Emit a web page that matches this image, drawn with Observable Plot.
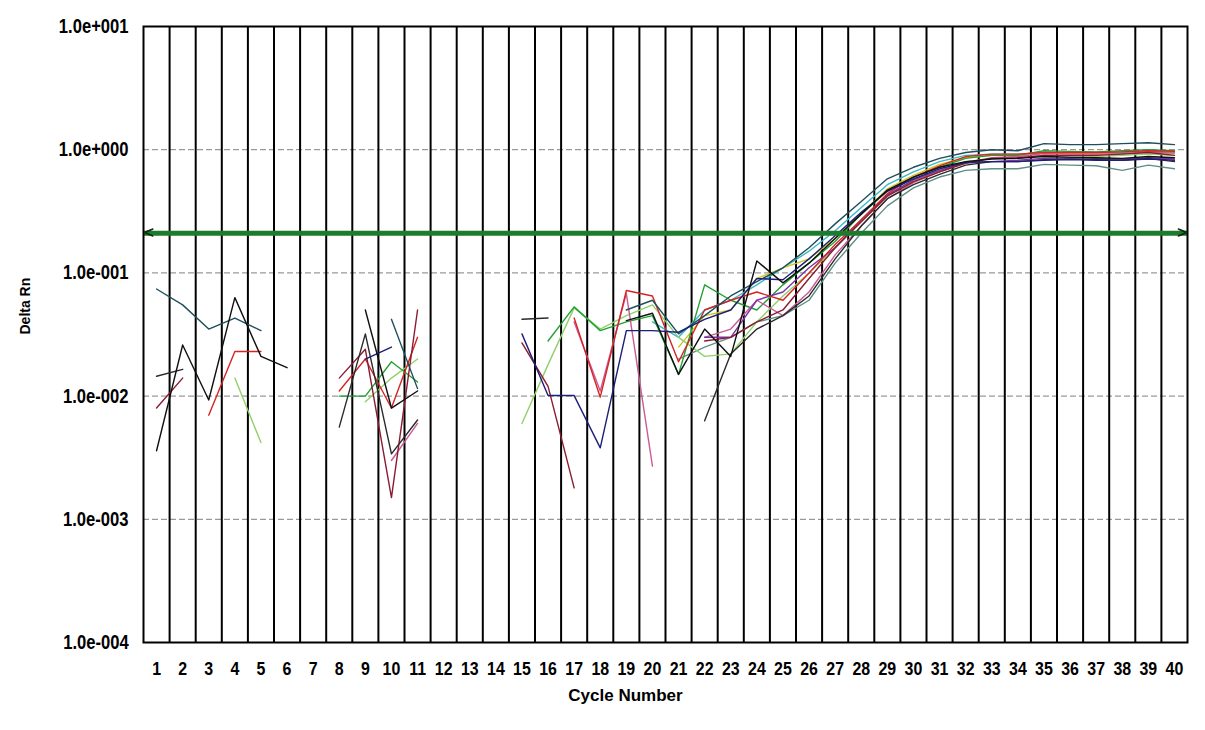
<!DOCTYPE html>
<html>
<head>
<meta charset="utf-8">
<script src="https://cdn.jsdelivr.net/npm/d3@7"></script>
<script src="https://cdn.jsdelivr.net/npm/@observablehq/plot@0.6"></script>
<style>
  html, body { margin: 0; padding: 0; background: #ffffff; }
  #chart svg text { font-weight: bold; }
</style>
</head>
<body>
<div id="chart"></div>
<script>
// ---- data ----
const cycles = [1,2,3,4,5,6,7,8,9,10,11,12,13,14,15,16,17,18,19,20,21,22,23,24,25,26,27,28,29,30,31,32,33,34,35,36,37,38,39,40];
const yTicks = [0.0001, 0.001, 0.01, 0.1, 1, 10];
const threshold = 0.21;

const graygreen = [null,null,null,null,null,null,null,null,null,null,
  null,null,null,null,null,null,null,null,null,null,
  0.02,0.025,0.03,0.04,0.045,0.06,0.12,0.21,0.35,0.49,
  0.6,0.68,0.7,0.7,0.76,0.75,0.74,0.68,0.75,0.7];
const cyan = [null,null,null,null,null,null,null,null,null,null,
  null,null,null,null,null,null,null,null,null,0.04,
  0.03,0.05,0.06,0.08,0.11,0.15,0.22,0.34,0.52,0.66,
  0.8,0.9,0.92,0.92,0.95,0.94,0.94,0.95,0.97,0.95];
const yellow = [null,null,null,null,null,null,null,null,null,null,
  null,null,null,null,null,null,null,null,null,null,
  0.025,0.045,0.05,0.09,0.11,0.13,0.19,0.3,0.48,0.62,
  0.76,0.86,0.9,0.9,0.93,0.93,0.92,0.93,0.95,0.93];
const lightgreen = [null,null,null,0.014,0.0042,null,null,null,0.009,0.014,
  0.02,null,null,null,0.006,0.018,0.052,0.035,0.045,0.055,
  0.03,0.021,0.022,0.04,0.065,0.1,0.16,0.26,0.42,0.56,
  0.68,0.8,0.85,0.85,0.9,0.9,0.88,0.9,0.92,0.9];
const green = [null,null,null,null,null,null,null,0.010,0.010,0.019,
  0.013,null,null,null,null,0.028,0.053,0.034,0.04,0.045,
  0.015,0.08,0.06,0.05,0.08,0.12,0.18,0.3,0.46,0.6,
  0.72,0.85,0.9,0.9,0.98,0.97,0.96,0.98,1.0,0.98];
const pink = [null,null,null,null,null,null,null,null,null,0.003,
  0.006,null,null,null,null,null,0.04,0.011,0.068,0.0027,
  null,0.03,0.035,0.06,0.045,0.07,0.14,0.24,0.4,0.54,
  0.66,0.78,0.86,0.88,0.93,0.92,0.92,0.93,0.96,0.94];
const purple = [null,null,null,null,null,null,null,null,null,null,
  null,null,null,null,null,null,null,null,null,null,
  null,0.03,0.03,0.06,0.07,0.11,0.16,0.27,0.43,0.57,
  0.68,0.78,0.8,0.82,0.85,0.86,0.85,0.84,0.86,0.84];
const red = [null,null,0.007,0.023,0.023,null,null,0.011,0.02,0.008,
  0.03,null,null,null,null,null,0.043,0.0098,0.072,0.065,
  0.019,0.05,0.06,0.07,0.06,0.1,0.17,0.27,0.44,0.6,
  0.74,0.88,0.92,0.92,0.95,0.95,0.95,0.96,0.98,0.97];
const maroon = [0.008,0.014,null,null,null,null,null,0.014,0.024,0.0015,
  0.05,null,null,null,0.027,0.012,0.0018,null,null,null,
  null,0.028,0.03,0.04,0.05,0.09,0.16,0.26,0.42,0.55,
  0.66,0.78,0.85,0.86,0.9,0.9,0.9,0.92,0.95,0.9];
const teal = [0.074,0.055,0.035,0.043,0.034,null,null,null,null,0.042,
  0.0115,null,null,null,null,null,null,null,0.05,0.06,
  0.032,0.045,0.065,0.085,0.11,0.16,0.25,0.38,0.58,0.72,
  0.85,0.95,1.0,0.98,1.12,1.1,1.1,1.12,1.14,1.1];
const black2 = [0.0145,0.0165,null,null,null,null,null,0.0056,0.032,0.0034,
  0.0064,null,null,null,0.042,0.043,null,null,null,null,
  null,0.0063,0.022,0.035,0.045,0.065,0.13,0.24,0.4,0.52,
  0.63,0.75,0.8,0.8,0.83,0.84,0.83,0.82,0.85,0.8];
const navy = [null,null,null,null,null,null,null,null,0.02,0.025,
  null,null,null,null,0.032,0.0101,0.0101,0.0038,0.034,0.034,
  0.033,0.042,0.05,0.09,0.088,0.13,0.2,0.31,0.46,0.58,
  0.7,0.79,0.8,0.8,0.82,0.83,0.82,0.82,0.84,0.82];
const black1 = [0.0036,0.026,0.0093,0.063,0.021,0.017,null,null,0.05,0.008,
  0.011,null,null,null,null,null,null,null,0.041,0.047,
  0.015,0.035,0.021,0.125,0.083,0.12,0.19,0.3,0.47,0.6,
  0.72,0.8,0.84,0.85,0.88,0.87,0.86,0.85,0.88,0.86];

const seriesNames = ["graygreen","cyan","yellow","lightgreen","green","pink","purple","red","maroon","teal","black2","navy","black1"];
const seriesValues = [graygreen,cyan,yellow,lightgreen,green,pink,purple,red,maroon,teal,black2,navy,black1];
const seriesColors = ["#5f8f86","#3cb8c8","#d2c21e","#8fd16a","#22a032","#cc5a96","#7a34a8","#d62424","#8a1c30","#1f4f5c","#2b2b2b","#1c1f78","#101010"];

// ---- build table ----
const rows = seriesNames.flatMap((name, i) =>
  cycles.map((c, j) => ({cycle: c, value: seriesValues[i][j], series: name})));
const boundaries = cycles.slice(0, -1).map(c => c + 0.5);
const xDomain = [cycles[0] - 0.5, cycles[cycles.length - 1] + 0.5];
const gridY = yTicks.slice(1, -1);
const fmt = d => {
  const e = Math.round(Math.log10(d));
  return "1.0e" + (e < 0 ? "-" : "+") + String(Math.abs(e)).padStart(3, "0");
};
const FONT = "'Liberation Sans', Arial, sans-serif";

const chart = Plot.plot({
  width: 1205,
  height: 730,
  marginLeft: 143,
  marginRight: 18,
  marginTop: 26,
  marginBottom: 88,
  style: {background: "#ffffff", fontFamily: FONT, color: "#000"},
  x: {domain: xDomain},
  y: {type: "log", domain: [yTicks[0], yTicks[yTicks.length - 1]]},
  color: {domain: seriesNames, range: seriesColors},
  marks: [
    Plot.ruleY(gridY, {stroke: "#808080", strokeWidth: 1, strokeDasharray: "6,3"}),
    Plot.ruleX(boundaries, {stroke: "#000", strokeWidth: 2}),
    Plot.line(rows, {x: "cycle", y: "value", z: "series", stroke: "series", strokeWidth: 1.4}),
    Plot.ruleY([threshold], {stroke: "#1e7a2c", strokeWidth: 5}),
    Plot.text([threshold], {x: xDomain[0], y: d => d, text: () => "<", textAnchor: "start", fontSize: 16, fill: "#0c2a10", dx: 1}),
    Plot.text([threshold], {x: xDomain[1], y: d => d, text: () => ">", textAnchor: "end", fontSize: 16, fill: "#0c2a10", dx: -1}),
    Plot.frame({stroke: "#000", strokeWidth: 2}),
    Plot.axisX(cycles, {tickSize: 0, tickPadding: 19, fontSize: 19, label: null}),
    Plot.axisY(yTicks, {tickSize: 0, tickPadding: 15, fontSize: 20, tickFormat: fmt, label: null}),
    Plot.text(["Delta Rn"], {frameAnchor: "left", dx: -118, rotate: -90, fontSize: 14, text: d => d}),
    Plot.text(["Cycle Number"], {frameAnchor: "bottom", dy: 58, dx: -40, fontSize: 17, text: d => d})
  ]
});
document.getElementById("chart").appendChild(chart);

// narrow the tick-label glyphs horizontally (the original uses a condensed face)
function squeeze(selector, sx, anchor) {
  chart.querySelectorAll(selector).forEach(t => {
    const r = t.getBoundingClientRect();
    const parent = t.parentNode;
    const pt = chart.createSVGPoint();
    pt.x = anchor === "end" ? r.right : (r.left + r.right) / 2;
    pt.y = (r.top + r.bottom) / 2;
    const p = pt.matrixTransform(parent.getScreenCTM().inverse());
    const g = document.createElementNS("http://www.w3.org/2000/svg", "g");
    g.setAttribute("transform", `translate(${p.x},${p.y}) scale(${sx},1) translate(${-p.x},${-p.y})`);
    parent.insertBefore(g, t);
    g.appendChild(t);
  });
}
squeeze('g[aria-label="y-axis tick label"] text', 0.83, "end");
squeeze('g[aria-label="x-axis tick label"] text', 0.84, "middle");
</script>
</body>
</html>
